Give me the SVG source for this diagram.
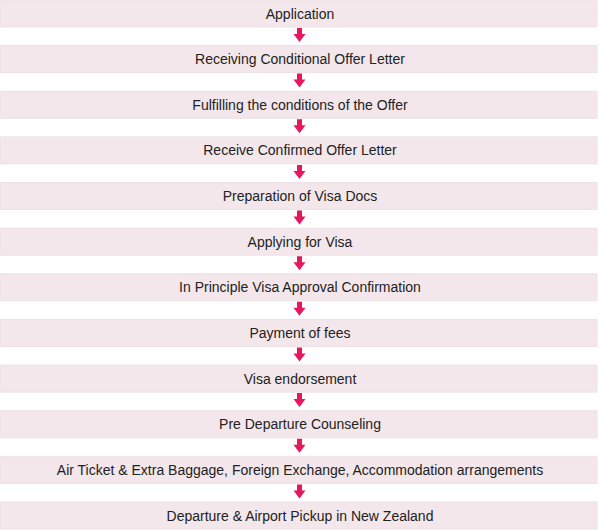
<svg xmlns="http://www.w3.org/2000/svg" width="600" height="530" viewBox="0 0 600 530">
<defs>
<style>
.bar{fill:#f3e7eb;stroke:#ede1e5;stroke-width:1}
.lbl{font-family:"Liberation Sans",Arial,sans-serif;font-size:14px;fill:#222222;text-anchor:middle}
.arr{fill:#e8175d}
</style>
<path id="a" class="arr" d="M297,1 H302 V7 H305.5 L299.5,15 L293.5,7 H297 Z"/>
</defs>
<rect width="600" height="530" fill="#ffffff"/>
<g id="n1"><rect class="bar" x="0" y="0" width="597" height="27"/><text class="lbl" x="300" y="18.5">Application</text></g>
<g id="n2"><rect class="bar" x="0" y="45.6" width="597" height="27"/><text class="lbl" x="300" y="64.1">Receiving Conditional Offer Letter</text></g>
<g id="n3"><rect class="bar" x="0" y="91.3" width="597" height="27"/><text class="lbl" x="300" y="109.8">Fulfilling the conditions of the Offer</text></g>
<g id="n4"><rect class="bar" x="0" y="136.9" width="597" height="27"/><text class="lbl" x="300" y="155.4">Receive Confirmed Offer Letter</text></g>
<g id="n5"><rect class="bar" x="0" y="182.6" width="597" height="27"/><text class="lbl" x="300" y="201.1">Preparation of Visa Docs</text></g>
<g id="n6"><rect class="bar" x="0" y="228.2" width="597" height="27"/><text class="lbl" x="300" y="246.7">Applying for Visa</text></g>
<g id="n7"><rect class="bar" x="0" y="273.8" width="597" height="27"/><text class="lbl" x="300" y="292.3">In Principle Visa Approval Confirmation</text></g>
<g id="n8"><rect class="bar" x="0" y="319.5" width="597" height="27"/><text class="lbl" x="300" y="338">Payment of fees</text></g>
<g id="n9"><rect class="bar" x="0" y="365.1" width="597" height="27"/><text class="lbl" x="300" y="383.6">Visa endorsement</text></g>
<g id="n10"><rect class="bar" x="0" y="410.8" width="597" height="27"/><text class="lbl" x="300" y="429.3">Pre Departure Counseling</text></g>
<g id="n11"><rect class="bar" x="0" y="456.4" width="597" height="27"/><text class="lbl" x="300" y="474.9">Air Ticket &amp; Extra Baggage, Foreign Exchange, Accommodation arrangements</text></g>
<g id="n12"><rect class="bar" x="0" y="502" width="597" height="27"/><text class="lbl" x="300" y="520.5">Departure &amp; Airport Pickup in New Zealand</text></g>
<g id="connectors">
<use href="#a" y="27"/>
<use href="#a" y="72.6"/>
<use href="#a" y="118.3"/>
<use href="#a" y="163.9"/>
<use href="#a" y="209.6"/>
<use href="#a" y="255.2"/>
<use href="#a" y="300.8"/>
<use href="#a" y="346.5"/>
<use href="#a" y="392.1"/>
<use href="#a" y="437.8"/>
<use href="#a" y="483.4"/>
</g>
</svg>
